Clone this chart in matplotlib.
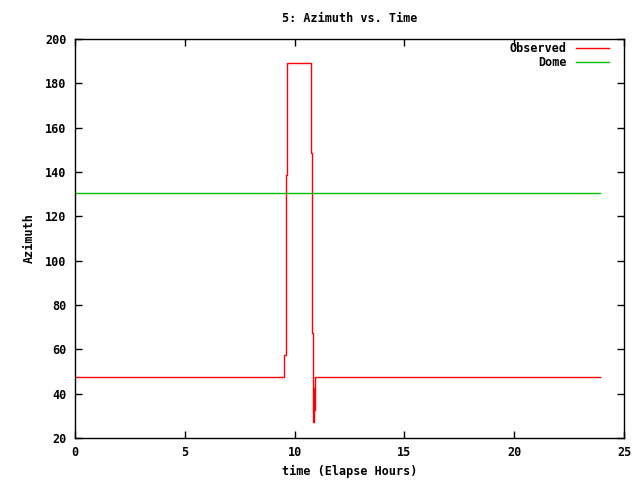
import matplotlib
matplotlib.use("Agg")
import matplotlib.pyplot as plt

# Observed azimuth (step data)
t_obs = [0, 9.53, 9.59, 9.63, 9.67, 10.76, 10.81, 10.85, 10.88, 10.90, 10.92, 10.94, 23.9]
az_obs = [47.5, 57.5, 78, 138.7, 189, 148.7, 67.5, 27.4, 42.4, 32.7, 42, 47.4, 47.4]

# Dome azimuth
t_dome = [0, 23.9]
az_dome = [130.5, 130.5]

xticks = [0, 5, 10, 15, 20, 25]
yticks = [20, 40, 60, 80, 100, 120, 140, 160, 180, 200]

plt.rcParams['font.family'] = ['DejaVu Sans Mono']
plt.rcParams['font.weight'] = 'bold'
plt.rcParams['font.size'] = 8.5

fig = plt.figure(figsize=(6.4, 4.8), dpi=100)
ax = fig.add_axes([75/640, 1-438/480, (624-75)/640, (438-39)/480])

ax.plot(t_obs, az_obs, drawstyle='steps-post', color='#ff0000', lw=1.0, label='Observed')
ax.plot(t_dome, az_dome, color='#00c000', lw=1.0, label='Dome')

ax.set_xlim(0, 25)
ax.set_ylim(20, 200)
ax.set_xticks(xticks)
ax.set_yticks(yticks)
ax.tick_params(direction='in', top=True, right=True, length=5, width=1, pad=6)
for s in ax.spines.values():
    s.set_linewidth(1)

ax.set_title('5: Azimuth vs. Time', fontsize=8.5, fontweight='bold', pad=12)
ax.set_xlabel('time (Elapse Hours)', fontweight='bold', labelpad=4)
ax.set_ylabel('Azimuth', fontweight='bold', labelpad=7)

leg = ax.legend(loc='upper right', frameon=False, markerfirst=False,
                bbox_to_anchor=(1 - 9/549, 1 + 3/399),
                handlelength=2.8, handletextpad=0.8, borderaxespad=0.1,
                labelspacing=0.1, fontsize=8.5)

fig.savefig('out.png', dpi=100)
